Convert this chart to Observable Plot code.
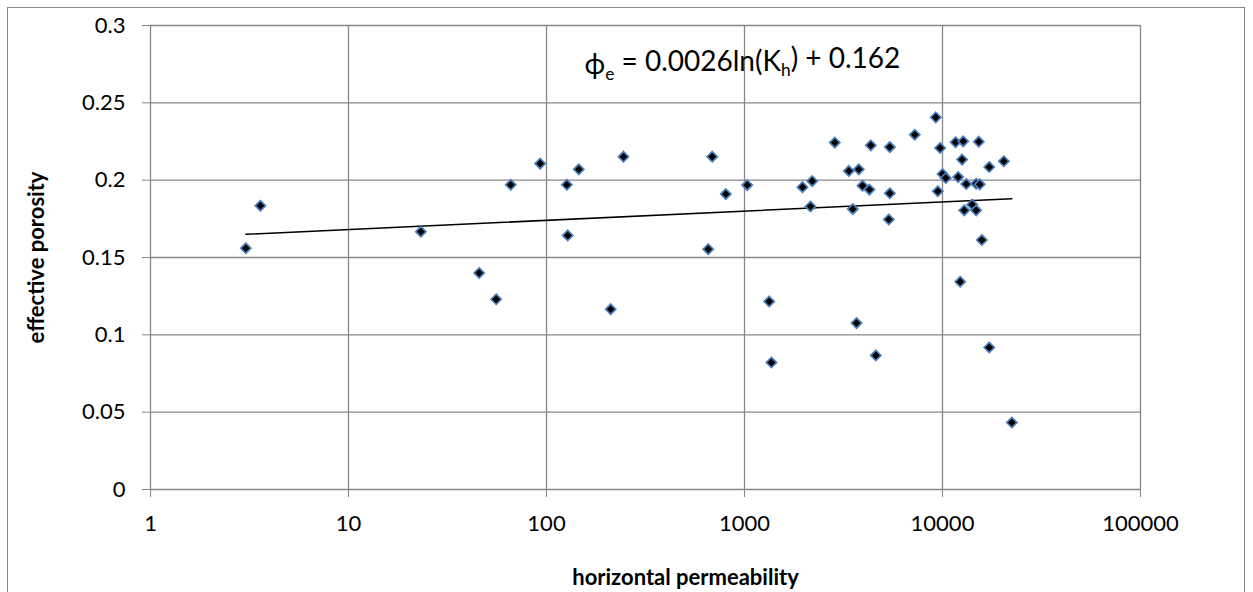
<!DOCTYPE html>
<html>
<head>
<meta charset="utf-8">
<script src="https://cdn.jsdelivr.net/npm/d3@7"></script>
<script src="https://cdn.jsdelivr.net/npm/@observablehq/plot@0.6"></script>
<style>
  html, body { margin: 0; padding: 0; background: #fff; overflow: hidden; }
  #wrap { position: relative; width: 1253px; height: 592px; }
  #border { position: absolute; left: 7px; top: 7px; width: 1238px; height: 620px; border: 1px solid #878787; box-sizing: border-box; pointer-events: none; }
  svg { display: block; }
</style>
</head>
<body>
<div id="wrap"><div id="border"></div></div>
<script>
// horizontal permeability (x, log scale)
const kh = [3.03, 3.59, 23.2, 45.7, 55.7, 66, 92.9, 126.7, 145.6, 128, 244.8, 211, 687, 656, 805, 1032, 1333, 1368,
  1963, 2198, 2154, 2858, 3365, 3524, 3777, 3945, 4276, 4345, 5420, 5420, 5354, 7244, 9250, 9728, 9465, 10000, 10390,
  11640, 12730, 12000, 12560, 13180, 12880, 14120, 14790, 14790, 15420, 15250, 17220, 20400, 15800, 12280, 3680, 4605,
  17220, 22390];
// effective porosity (y)
const phi = [0.156, 0.1835, 0.1667, 0.140, 0.123, 0.197, 0.2107, 0.197, 0.207, 0.1643, 0.2152, 0.1166, 0.2152, 0.1554,
  0.191, 0.1968, 0.1216, 0.0821, 0.1955, 0.1994, 0.183, 0.2243, 0.206, 0.1813, 0.207, 0.1964, 0.1939, 0.2225, 0.2214,
  0.1915, 0.1746, 0.2294, 0.2406, 0.2208, 0.1928, 0.204, 0.2014, 0.2245, 0.2251, 0.202, 0.2133, 0.1975, 0.1805, 0.1842,
  0.1805, 0.1977, 0.1973, 0.2249, 0.2085, 0.2122, 0.1613, 0.1343, 0.1076, 0.0867, 0.0918, 0.0433];
// trend line end points
const trendKh = [3.03, 22390];
const trendPhi = [0.165, 0.188];
// ticks
const xTicks = [1, 10, 100, 1000, 10000, 100000];
const yTicks = [0, 0.05, 0.1, 0.15, 0.2, 0.25, 0.3];
const xTitle = "horizontal permeability";
const yTitle = "effective porosity";
const eqText = "ϕe = 0.0026ln(Kh) + 0.162";

const points = kh.map((k, i) => ({k, p: phi[i]}));
const trend = trendKh.map((k, i) => ({k, p: trendPhi[i]}));
const grid = "#878787";
const font = "Lato, Carlito, 'Open Sans', sans-serif";

const chart = Plot.plot({
  width: 1253,
  height: 592,
  marginLeft: 150,
  marginRight: 113,
  marginTop: 25,
  marginBottom: 103,
  x: {type: "log", domain: [1, 100000]},
  y: {domain: [0, 0.3]},
  style: {fontFamily: font, background: "transparent", color: "#000"},
  marks: [
    Plot.ruleX(xTicks, {stroke: grid, strokeWidth: 1.3}),
    Plot.ruleY(yTicks, {stroke: grid, strokeWidth: 1.3}),
    Plot.axisX({ticks: xTicks, tickFormat: d => String(d), tickSize: 8, tickPadding: 18, fontSize: 22, stroke: grid, label: null}),
    Plot.axisY({ticks: yTicks, tickFormat: d => String(d), tickSize: 8, tickPadding: 17, fontSize: 22, stroke: grid, label: null}),
    Plot.line(trend, {x: "k", y: "p", stroke: "#000", strokeWidth: 1.5}),
    Plot.dot(points, {x: "k", y: "p", symbol: "diamond2", r: 4.6, fill: "#000", stroke: "#4a7ebb", strokeWidth: 1.7}),
    Plot.text([xTitle], {text: d => d, frameAnchor: "bottom", dx: 40, dy: 88, textAnchor: "middle", lineAnchor: "middle", fontSize: 22, fontWeight: "bold"}),
    Plot.text([yTitle], {text: d => d, frameAnchor: "left", dx: -114, rotate: -90, textAnchor: "middle", lineAnchor: "middle", fontSize: 22, fontWeight: "bold"}),
    Plot.text([eqText], {text: d => d, frameAnchor: "top-left", dx: 434, dy: 40, textAnchor: "start", lineAnchor: "middle", fontSize: 28, className: "eq"})
  ]
});
document.getElementById("wrap").prepend(chart);

// render subscripts in the equation
const eq = d3.select(chart).select("g.eq text");
if (!eq.empty()) {
  eq.text(null);
  const parts = [["ϕ", false], ["e", true], [" = 0.0026ln(K", false], ["h", true], [") + 0.162", false]];
  let shifted = false;
  for (const [t, sub] of parts) {
    const ts = eq.append("tspan").text(t);
    if (sub) { ts.attr("font-size", "0.62em").attr("dy", shifted ? null : "0.3em"); shifted = true; }
    else if (shifted) { ts.attr("dy", "-0.3em"); shifted = false; }
  }
}
</script>
</body>
</html>
